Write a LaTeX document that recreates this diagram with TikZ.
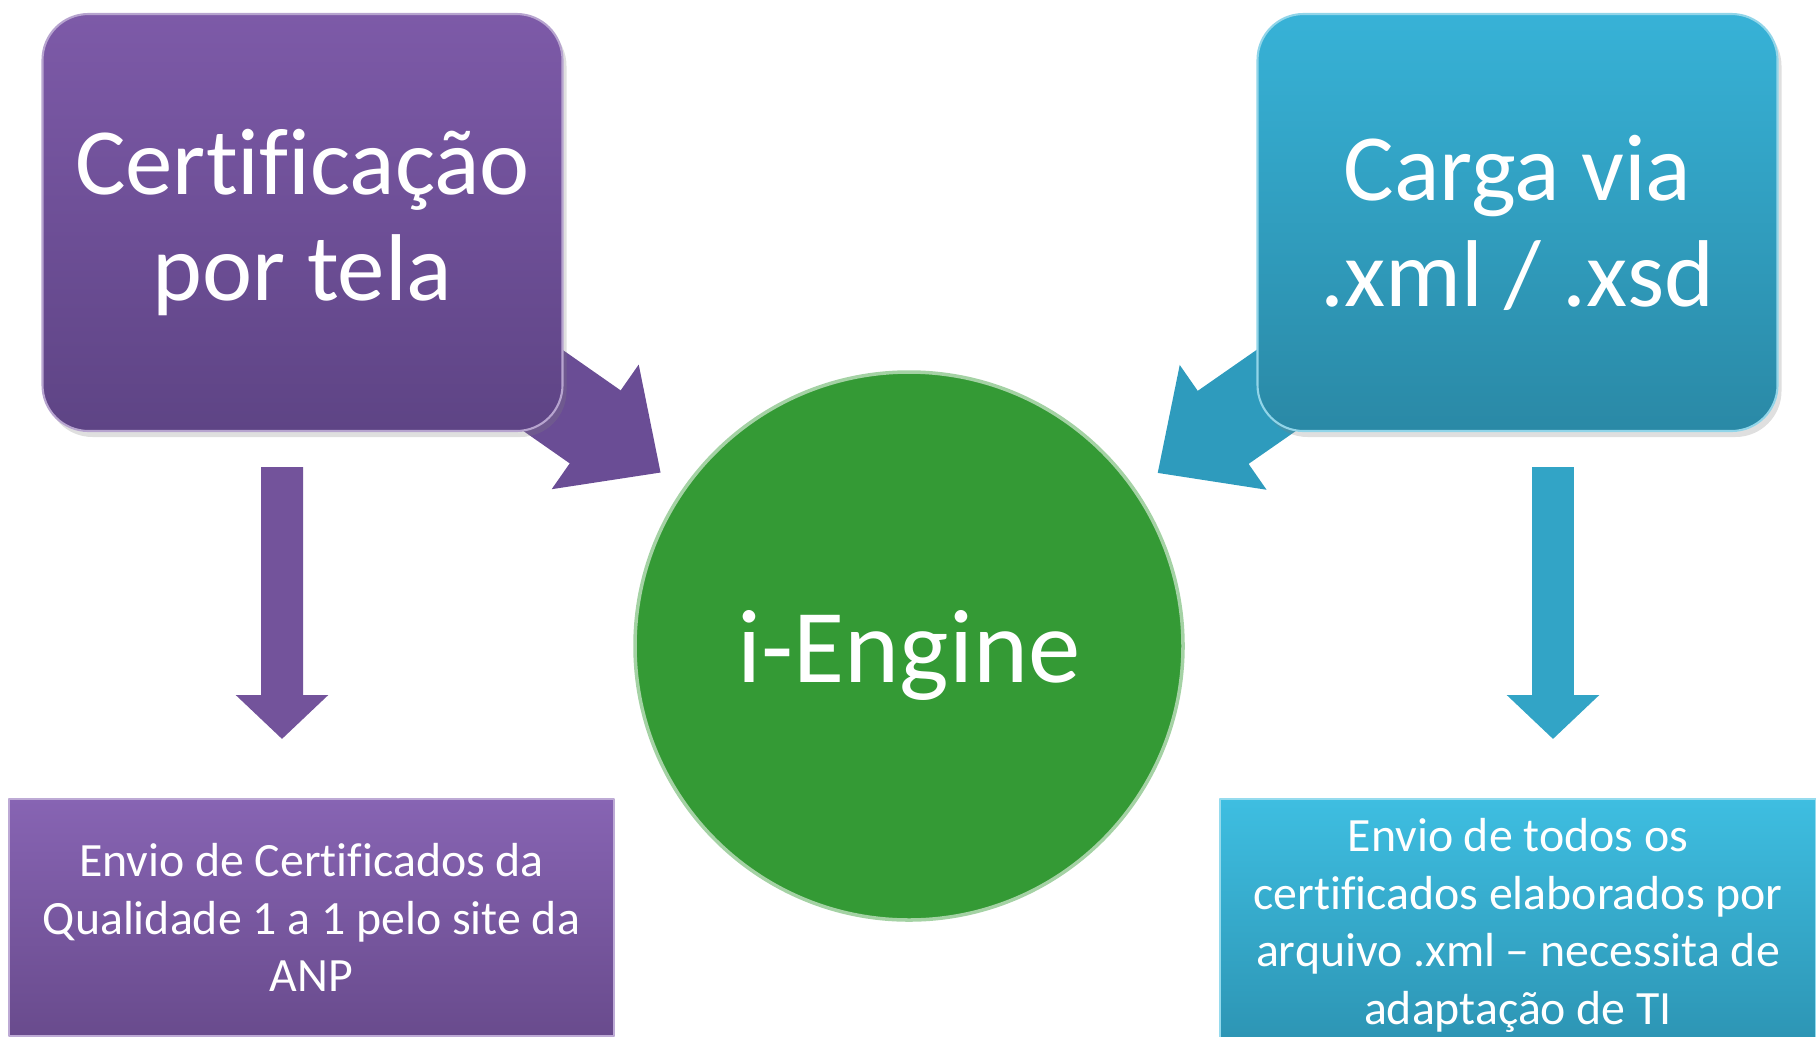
\documentclass[tikz,border=0pt]{standalone}
\usepackage{fontspec}
\setmainfont[Ligatures={NoCommon,NoRequired,NoContextual}]{Carlito}
\usetikzlibrary{arrows.meta,backgrounds,shadows}
\definecolor{purpA}{HTML}{7D5AA8}
\definecolor{purpB}{HTML}{5E4485}
\definecolor{purpC}{HTML}{8764B3}
\definecolor{purpD}{HTML}{694B8D}
\definecolor{purpE}{HTML}{6A4D95}
\definecolor{cyanA}{HTML}{37B2D7}
\definecolor{cyanB}{HTML}{2A89A6}
\definecolor{cyanC}{HTML}{3EBEE1}
\definecolor{cyanD}{HTML}{2C93B2}
\definecolor{cyanE}{HTML}{2E9BBD}
\definecolor{engineGreen}{HTML}{349A35}
\begin{document}
\begin{tikzpicture}[line join=round,
  topbox/.style={rounded corners=.46cm,minimum width=5.2cm,minimum height=4.17cm,outer sep=0pt,
    align=center,text=white,font=\fontsize{27}{30.2}\selectfont,line width=.6pt,
    drop shadow={opacity=.25,shadow xshift=.04cm,shadow yshift=-.06cm}},
  lowbox/.style={outer sep=0pt,align=center,text=white,
    font=\fontsize{13.6}{16.4}\selectfont,line width=.6pt},
  fatarrow/.style={line width=.89cm,-{Triangle[width=1.47cm,length=.8cm]},shorten >=.27cm},
  downarrow/.style={line width=.42cm,-{Triangle[width=.9cm,length=.44cm]}}]
  \useasboundingbox (0,0) rectangle (18.16,-10.36);
  \node (tl) [topbox,top color=purpA,bottom color=purpB,draw=purpA!55!white] at (3.025,-2.225) {Certificação\\por tela};
  \node (tr) [topbox,top color=cyanA,bottom color=cyanB,draw=cyanA!55!white] at (15.175,-2.225) {Carga via\\.xml / .xsd};
  \node (engine) [circle,minimum size=5.48cm,inner sep=0pt,text depth=0pt,fill=engineGreen,draw=engineGreen!45!white,
    line width=1pt,text=white,font=\fontsize{29.8}{34}\selectfont] at (9.09,-6.46) {i-Engine};
  \node (bl) [lowbox,minimum width=6.05cm,minimum height=2.37cm,top color=purpC,bottom color=purpD,draw=purpC!55!white]
    at (3.115,-9.175) {Envio de Certificados da\\Qualidade 1 a 1 pelo site da\\ANP};
  \node (br) [lowbox,minimum width=5.96cm,minimum height=2.53cm,top color=cyanC,bottom color=cyanD,draw=cyanC!55!white]
    at (15.18,-9.255) {Envio de todos os\\certificados elaborados por\\arquivo .xml – necessita de\\adaptação de TI};
  \begin{scope}[on background layer]
    \draw[fatarrow,purpE] (tl.center) -- (engine);
    \draw[fatarrow,cyanE] (tr.center) -- (engine);
  \end{scope}
  \draw[downarrow,purpA!92!black] ([xshift=-.205cm,yshift=-.36cm]tl.south) -- ([xshift=-.295cm,yshift=.6cm]bl.north);
  \draw[downarrow,cyanA!92!black] ([xshift=.355cm,yshift=-.36cm]tr.south) -- ([xshift=.35cm,yshift=.6cm]br.north);
\end{tikzpicture}
\end{document}
